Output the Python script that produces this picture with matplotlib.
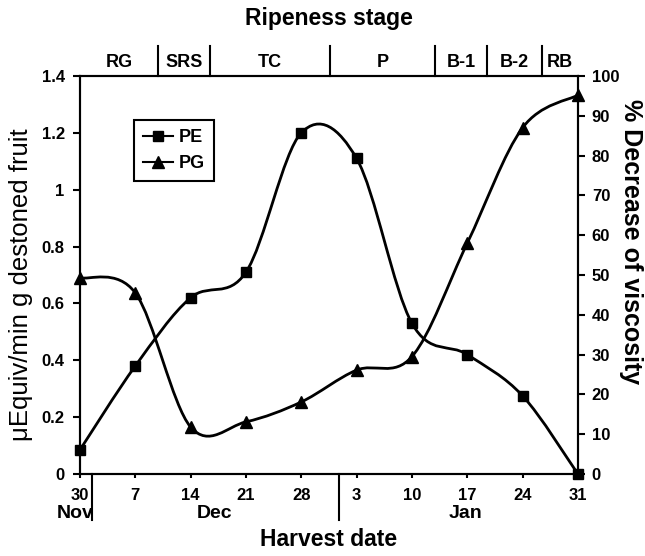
import matplotlib
matplotlib.use('Agg')
import matplotlib.pyplot as plt
from matplotlib.path import Path
from matplotlib.patches import PathPatch
from matplotlib.lines import Line2D

plt.rcParams['font.family'] = ['Liberation Sans', 'DejaVu Sans']

# harvest dates (evenly spaced on the axis)
dates = ['30', '7', '14', '21', '28', '3', '10', '17', '24', '31']
months = ['Nov', 'Dec', 'Jan']
# PE activity (left axis) and PG as % decrease of viscosity (right axis)
pe = [0.085, 0.38, 0.62, 0.71, 1.2, 1.11, 0.53, 0.42, 0.275, 0.0]
pg = [49.3, 45.5, 11.8, 13.1, 18.1, 26.1, 29.5, 58.0, 87.0, 95.2]
# ripeness stages and their boundaries in date-index units
stages = ['RG', 'SRS', 'TC', 'P', 'B-1', 'B-2', 'RB']
stage_edges = [0, 1.41, 2.35, 4.52, 6.42, 7.36, 8.35, 9]
month_edges = [0.22, 4.68]


def smooth_path(xs, ys):
    # bezier smoothing like a spreadsheet "smoothed line"
    verts = [(xs[0], ys[0])]
    codes = [Path.MOVETO]
    n = len(xs)
    for i in range(n - 1):
        a = max(i - 1, 0)
        b = min(i + 2, n - 1)
        c1 = (xs[i] + (xs[i + 1] - xs[a]) / 6, ys[i] + (ys[i + 1] - ys[a]) / 6)
        c2 = (xs[i + 1] - (xs[b] - xs[i]) / 6, ys[i + 1] - (ys[b] - ys[i]) / 6)
        verts += [c1, c2, (xs[i + 1], ys[i + 1])]
        codes += [Path.CURVE4] * 3
    return Path(verts, codes)


x = list(range(len(dates)))

fig = plt.figure(figsize=(6.45, 5.56), dpi=100)
ax = fig.add_axes([0.124, 0.1475, 0.772, 0.7158])
ax2 = ax.twinx()

ax.add_patch(PathPatch(smooth_path(x, pe), facecolor='none', edgecolor='black', lw=2))
ax.plot(x, pe, 's', color='black', markersize=7, clip_on=False, zorder=5)
ax2.add_patch(PathPatch(smooth_path(x, pg), facecolor='none', edgecolor='black', lw=2))
ax2.plot(x, pg, '^', color='black', markersize=8, clip_on=False, zorder=5)

ax.set_xlim(0, 9)
ax.set_ylim(0, 1.4)
ax2.set_ylim(0, 100)
ax.set_xticks(x)
ax.set_xticklabels(dates)
ax.set_yticks([0, 0.2, 0.4, 0.6, 0.8, 1.0, 1.2, 1.4])
ax.set_yticklabels(['0', '0.2', '0.4', '0.6', '0.8', '1', '1.2', '1.4'])
ax2.set_yticks(range(0, 101, 10))

for a in (ax, ax2):
    for s in a.spines.values():
        s.set_linewidth(1.5)
    for lab in a.get_xticklabels() + a.get_yticklabels():
        lab.set_fontweight('bold')
        lab.set_fontsize(12)
ax.tick_params(axis='x', length=3, width=1.5, pad=7)
ax.tick_params(axis='y', length=5, width=1.5, pad=6)
ax2.tick_params(axis='y', length=5, width=1.5, pad=5)

ax.set_ylabel('\u03bcEquiv/min g destoned fruit', fontsize=18.5, va='center')
ax.yaxis.set_label_coords(-0.118, 0.475)
ax2.set_ylabel('% Decrease of viscosity', fontsize=18, fontweight='bold', rotation=-90,
               va='center')
ax2.yaxis.set_label_coords(1.106, 0.583)

# month row below dates
tr = ax.get_xaxis_transform()
for m in month_edges:
    ax.plot([m, m], [0, -0.115], color='black', lw=1.5, transform=tr, clip_on=False)
for name, pos in zip(months, [-0.09, 2.44, 6.96]):
    ax.text(pos, -0.1, name, transform=tr, ha='center', va='center',
            fontsize=14, fontweight='bold')
ax.text(0.5, -0.165, 'Harvest date', transform=ax.transAxes, ha='center', va='center',
        fontsize=16.5, fontweight='bold')

# ripeness stage bar above the plot
for e in stage_edges[1:-1]:
    ax.plot([e, e], [1.0, 1.075], color='black', lw=1.5, transform=tr, clip_on=False)
for i, name in enumerate(stages):
    mid = (stage_edges[i] + stage_edges[i + 1]) / 2
    ax.text(mid, 1.035, name, transform=tr, ha='center', va='center',
            fontsize=13, fontweight='bold')
ax.text(0.5, 1.145, 'Ripeness stage', transform=ax.transAxes, ha='center', va='center',
        fontsize=16.5, fontweight='bold')

handles = [Line2D([], [], color='black', marker='s', lw=1.5, markersize=7),
           Line2D([], [], color='black', marker='^', lw=1.5, markersize=8)]
leg = ax2.legend(handles, ['PE', 'PG'], loc='upper left', bbox_to_anchor=(0.108, 0.889),
                 borderaxespad=0, fancybox=False, edgecolor='black', framealpha=1,
                 prop={'weight': 'bold', 'size': 13}, handlelength=1.7, handletextpad=0.3,
                 borderpad=0.5)
leg.get_frame().set_linewidth(1.5)

fig.savefig('out.png', dpi=100)
